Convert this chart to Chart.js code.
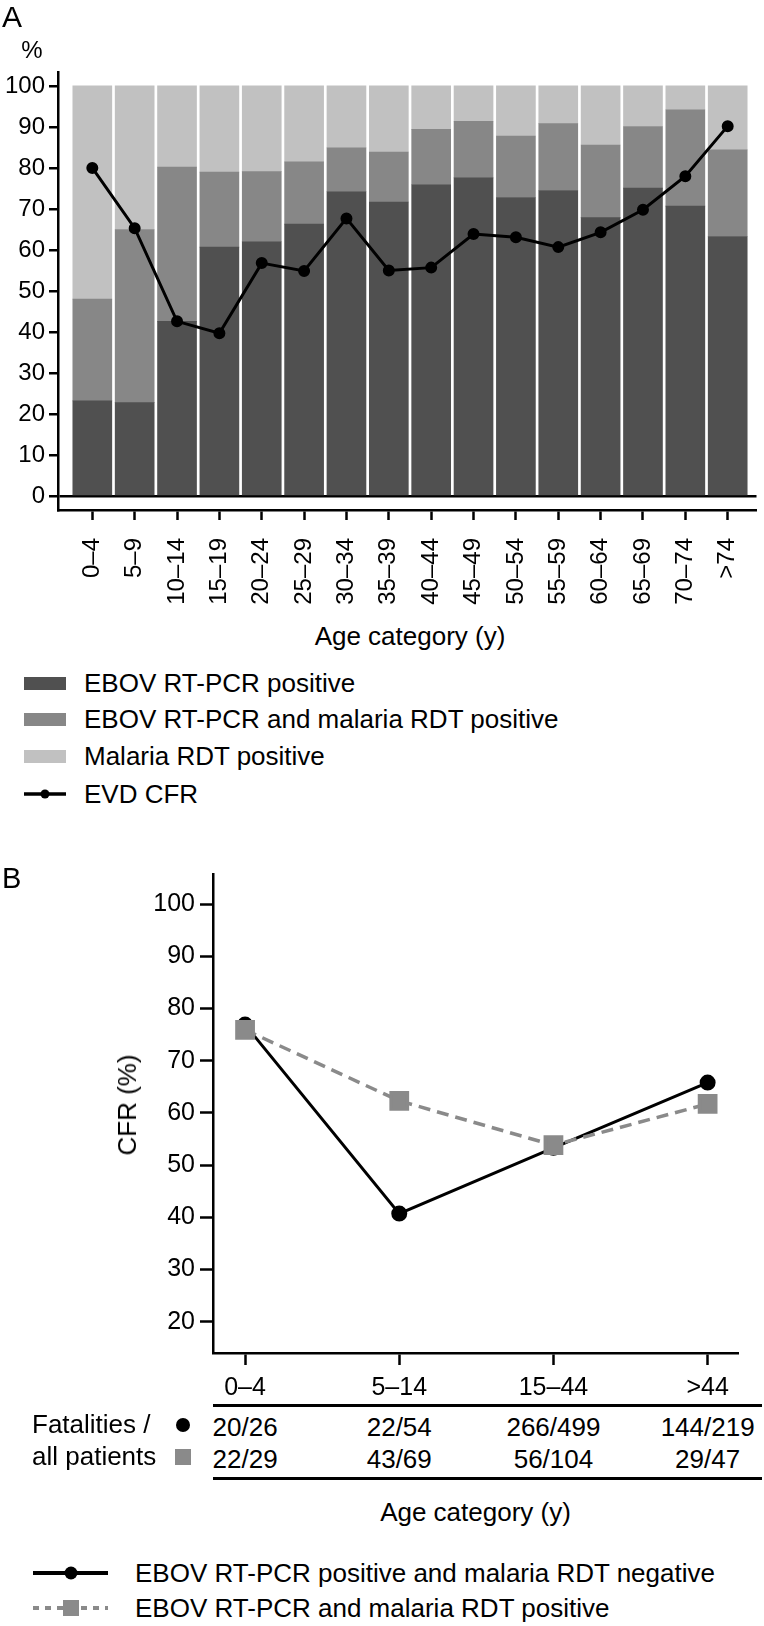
<!DOCTYPE html>
<html>
<head>
<meta charset="utf-8">
<script src="https://cdn.jsdelivr.net/npm/chart.js@4.4.0/dist/chart.umd.min.js"></script>
<style>
  body { margin: 0; background: #fff; font-family: "Liberation Sans", Arial, sans-serif; color: #000; }
  #page { position: relative; width: 764px; height: 1626px; overflow: hidden; }
  .abs { position: absolute; white-space: nowrap; line-height: 1; }
  .vc { transform: translateY(-50%); }
  .cc { transform: translate(-50%, -50%); }
</style>
</head>
<body>
<div id="page">
  <div class="abs" style="left:0;top:0"><canvas id="chartA" width="764" height="620"></canvas></div>
  <div class="abs" style="left:0;top:850px"><canvas id="chartB" width="764" height="560"></canvas></div>

  <div class="abs vc" style="left:2px;top:17px;font-size:30px">A</div>
  <div class="abs cc" style="left:32px;top:50px;font-size:24px">%</div>
  <div class="abs cc" style="left:410px;top:636px;font-size:26px">Age category (y)</div>

  <div class="abs vc" style="left:2px;top:878px;font-size:29px">B</div>
  <div class="abs cc" style="left:127px;top:1105px;font-size:26px;transform:translate(-50%,-50%) rotate(-90deg)">CFR (%)</div>
</div>

<script>
// Panel A: share of patients per age group (%) and EVD case fatality rate
const ageGroupsA = ['0–4', '5–9', '10–14', '15–19', '20–24', '25–29', '30–34', '35–39',
                    '40–44', '45–49', '50–54', '55–59', '60–64', '65–69', '70–74', '>74'];
const ebovOnly    = [23.2, 22.8, 42.6, 60.7, 62.0, 66.3, 74.2, 71.7, 75.9, 77.6, 72.8, 74.5, 67.9, 75.1, 70.7, 63.3];
const ebovMalaria = [24.8, 42.2, 37.6, 18.3, 17.1, 15.2, 10.7, 12.2, 13.5, 13.8, 15.0, 16.3, 17.7, 15.0, 23.5, 21.1];
const malariaOnly = [52.0, 35.0, 19.8, 21.0, 20.9, 18.5, 15.1, 16.1, 10.6, 8.6, 12.2, 9.2, 14.4, 9.9, 5.8, 15.6];
const evdCfr      = [80.0, 65.3, 42.6, 39.7, 56.8, 54.9, 67.7, 55.0, 55.7, 63.9, 63.1, 60.7, 64.3, 69.8, 78.0, 90.2];
const yTicksA = [0, 10, 20, 30, 40, 50, 60, 70, 80, 90, 100];

// Panel B: CFR by malaria status
const ageGroupsB = ['0–4', '5–14', '15–44', '>44'];
const cfrMalariaNeg = [76.9, 40.7, 53.3, 65.8];
const cfrMalariaPos = [75.9, 62.3, 53.8, 61.7];
const deathsNeg = [20, 22, 266, 144];
const totalNeg  = [26, 54, 499, 219];
const deathsPos = [22, 43, 56, 29];
const totalPos  = [29, 69, 104, 47];
const yTicksB = [20, 30, 40, 50, 60, 70, 80, 90, 100];

const FONT = '"Liberation Sans", Arial, sans-serif';
const DARK = '#505050', MID = '#878787', LIGHT = '#c1c1c1', GREY = '#8a8a8a';

const pts = arr => arr.map((v, i) => ({ x: i, y: v }));
const page = document.getElementById('page');

function addText(txt, x, y, size, cls) {
  const d = document.createElement('div');
  d.className = 'abs ' + cls;
  d.style.left = x + 'px';
  d.style.top = y + 'px';
  d.style.fontSize = size + 'px';
  d.textContent = txt;
  page.appendChild(d);
  return d;
}

function addBox(x, y, w, h, css) {
  const d = document.createElement('div');
  d.style.cssText = 'position:absolute;left:' + x + 'px;top:' + y + 'px;width:' + w + 'px;height:' + h + 'px;' + css;
  page.appendChild(d);
  return d;
}

function addSvg(x, y, w, h, inner) {
  const d = document.createElement('div');
  d.style.cssText = 'position:absolute;left:' + x + 'px;top:' + y + 'px;width:' + w + 'px;height:' + h + 'px;';
  d.innerHTML = '<svg width="' + w + '" height="' + h + '" xmlns="http://www.w3.org/2000/svg">' + inner + '</svg>';
  page.appendChild(d);
}

// ---- Chart A
const chartA = new Chart(document.getElementById('chartA'), {
  type: 'bar',
  data: {
    datasets: [
      { type: 'line', label: 'EVD CFR', data: pts(evdCfr), borderColor: '#000', backgroundColor: '#000',
        borderWidth: 3, pointRadius: 4.5, pointHoverRadius: 4.5, order: 0, stack: 'cfr' },
      { label: 'EBOV RT-PCR positive', data: pts(ebovOnly), backgroundColor: DARK, order: 1, stack: 'bars' },
      { label: 'EBOV RT-PCR and malaria RDT positive', data: pts(ebovMalaria), backgroundColor: MID, order: 1, stack: 'bars' },
      { label: 'Malaria RDT positive', data: pts(malariaOnly), backgroundColor: LIGHT, order: 1, stack: 'bars' }
    ]
  },
  options: {
    responsive: false,
    animation: false,
    devicePixelRatio: 1,
    layout: { padding: { top: 72, right: 2, left: 0, bottom: 0 } },
    plugins: { legend: { display: false }, tooltip: { enabled: false } },
    datasets: { bar: { barThickness: 39, borderWidth: 0 } },
    scales: {
      x: {
        type: 'linear', min: -0.81, max: 15.68, offset: false,
        afterBuildTicks: s => { s.ticks = ageGroupsA.map((_, i) => ({ value: i })); },
        afterFit: s => { s.height = 110; s.paddingLeft = 0; s.paddingRight = 0; },
        grid: { offset: false, drawOnChartArea: false, tickLength: 10, tickColor: '#000', tickWidth: 2.5 },
        border: { display: true, color: '#000', width: 2.5 },
        ticks: { autoSkip: false, maxRotation: 90, minRotation: 90, padding: 18, color: '#000',
                 font: { family: FONT, size: 24 }, callback: v => ageGroupsA[v] }
      },
      y: {
        min: -3.4, max: 103.4, stacked: true,
        afterBuildTicks: s => { s.ticks = yTicksA.map(v => ({ value: v })); },
        afterFit: s => { s.width = 58; },
        grid: { color: c => (c.tick && c.tick.value === 0) ? '#000' : 'rgba(0,0,0,0)', lineWidth: 2.5,
                tickLength: 9, tickColor: '#000', tickWidth: 2.5 },
        border: { display: true, color: '#000', width: 2.5 },
        ticks: { padding: 4, color: '#000', font: { family: FONT, size: 24 } }
      }
    }
  }
});

// legend A
const legA = [
  { label: 'EBOV RT-PCR positive', color: DARK, y: 683 },
  { label: 'EBOV RT-PCR and malaria RDT positive', color: MID, y: 719 },
  { label: 'Malaria RDT positive', color: LIGHT, y: 756 }
];
legA.forEach(e => {
  addBox(24, e.y - 6.5, 42, 13, 'background:' + e.color);
  addText(e.label, 84, e.y, 26, 'vc');
});
addSvg(24, 784, 42, 20, '<line x1="0" y1="10" x2="42" y2="10" stroke="#000" stroke-width="3.5"/><circle cx="21" cy="10" r="4.5" fill="#000"/>');
addText('EVD CFR', 84, 794, 26, 'vc');

// ---- Chart B
const chartB = new Chart(document.getElementById('chartB'), {
  type: 'line',
  data: {
    datasets: [
      { label: 'EBOV RT-PCR and malaria RDT positive', data: pts(cfrMalariaPos), borderColor: GREY, backgroundColor: GREY,
        borderWidth: 3.5, borderDash: [12, 7], pointStyle: 'rect', pointRadius: 11.5, pointHoverRadius: 11.5, order: 0 },
      { label: 'EBOV RT-PCR positive and malaria RDT negative', data: pts(cfrMalariaNeg), borderColor: '#000', backgroundColor: '#000',
        borderWidth: 3, pointStyle: 'circle', pointRadius: 6.5, pointHoverRadius: 6.5, order: 1 }
    ]
  },
  options: {
    responsive: false,
    animation: false,
    devicePixelRatio: 1,
    layout: { padding: { top: 24, right: 26, left: 0, bottom: 0 } },
    plugins: { legend: { display: false }, tooltip: { enabled: false } },
    scales: {
      x: {
        type: 'linear', min: -0.208, max: 3.197,
        afterBuildTicks: s => { s.ticks = ageGroupsB.map((_, i) => ({ value: i })); },
        afterFit: s => { s.height = 57; },
        grid: { drawOnChartArea: false, tickLength: 12, tickColor: '#000', tickWidth: 2.5 },
        border: { display: true, color: '#000', width: 2.5 },
        ticks: { autoSkip: false, maxRotation: 0, padding: 8, color: '#000',
                 font: { family: FONT, size: 25 }, callback: v => ageGroupsB[v] }
      },
      y: {
        min: 14, max: 105.75,
        afterBuildTicks: s => { s.ticks = yTicksB.map(v => ({ value: v })); },
        afterFit: s => { s.width = 213; },
        grid: { drawOnChartArea: false, tickLength: 13, tickColor: '#000', tickWidth: 2.5 },
        border: { display: true, color: '#000', width: 2.5 },
        ticks: { padding: 5, color: '#000', font: { family: FONT, size: 25 } }
      }
    }
  }
});

// table under panel B, columns aligned on the chart's x scale
const xsB = chartB.scales.x;
addBox(xsB.left, 1404, 762 - xsB.left, 2.5, 'background:#000');
addBox(xsB.left, 1477, 762 - xsB.left, 2.5, 'background:#000');
ageGroupsB.forEach((_, i) => {
  const px = xsB.getPixelForValue(i);
  addText(deathsNeg[i] + '/' + totalNeg[i], px, 1427, 26, 'cc');
  addText(deathsPos[i] + '/' + totalPos[i], px, 1459, 26, 'cc');
});
addText('Fatalities /', 32, 1424, 26, 'vc');
addText('all patients', 32, 1456, 26, 'vc');
addBox(176, 1418, 14, 14, 'background:#000;border-radius:50%');
addBox(175, 1449, 16, 16, 'background:' + GREY);
addText('Age category (y)', (xsB.left + xsB.right) / 2, 1512, 26, 'cc');

// legend B
addSvg(33, 1563, 75, 20, '<line x1="0" y1="10" x2="75" y2="10" stroke="#000" stroke-width="4"/><circle cx="38" cy="10" r="6.5" fill="#000"/>');
addText('EBOV RT-PCR positive and malaria RDT negative', 135, 1573, 26, 'vc');
addSvg(33, 1598, 75, 20, '<line x1="0" y1="10" x2="75" y2="10" stroke="' + GREY + '" stroke-width="4" stroke-dasharray="6,6"/><rect x="30" y="2" width="16" height="16" fill="' + GREY + '"/>');
addText('EBOV RT-PCR and malaria RDT positive', 135, 1608, 26, 'vc');
</script>
</body>
</html>
